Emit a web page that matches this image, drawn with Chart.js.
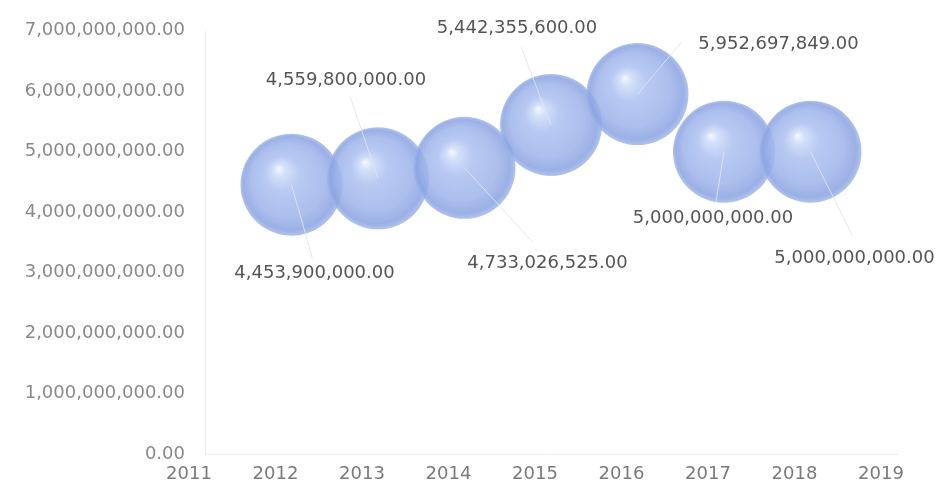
<!DOCTYPE html>
<html>
<head>
<meta charset="utf-8">
<script src="https://cdn.jsdelivr.net/npm/chart.js@4/dist/chart.umd.min.js"></script>
<style>
  html, body { margin: 0; padding: 0; background: #ffffff; }
  #wrap { width: 943px; height: 494px; position: relative; }
</style>
</head>
<body>
<div id="wrap"><canvas id="c"></canvas></div>
<script>
// ---- data ----
const years = [2012, 2013, 2014, 2015, 2016, 2017, 2018];
const values = [4453900000, 4559800000, 4733026525, 5442355600, 5952697849, 5000000000, 5000000000];
const xTickRange = [2011, 2019];
const yTickRange = [0, 7000000000];
const yStep = 1000000000;

// ---- label placement (pixel offsets from each bubble centre: text centre, leader end) ----
const labelOffsets = [
  { tx: 23,  ty: 89,  lx: 21,  ly: 74 },
  { tx: -32, ty: -98, lx: -28, ly: -82 },
  { tx: 83,  ty: 95,  lx: 68,  ly: 74 },
  { tx: -34, ty: -97, lx: -30, ly: -78 },
  { tx: 141, ty: -50, lx: 44,  ly: -52 },
  { tx: -11, ty: 67,  lx: -8,  ly: 50 },
  { tx: 44,  ty: 107, lx: 42,  ly: 84 }
];

const fmt = v => Number(v).toLocaleString('en-US', { minimumFractionDigits: 2, maximumFractionDigits: 2 });
const FONT = 'DejaVu Sans';
const BUBBLE_R = 51;

function sphereFill(ctx) {
  const chart = ctx.chart;
  if (ctx.type !== 'data' || !chart.scales.x || !ctx.parsed) return '#a2b8ec';
  const cx = chart.scales.x.getPixelForValue(ctx.parsed.x);
  const cy = chart.scales.y.getPixelForValue(ctx.parsed.y);
  if (!isFinite(cx) || !isFinite(cy)) return '#a2b8ec';
  const r = BUBBLE_R;
  const g = chart.ctx.createRadialGradient(cx - 0.26 * r, cy - 0.32 * r, 0, cx, cy, r);
  g.addColorStop(0, 'rgba(244,248,255,0.92)');
  g.addColorStop(0.12, 'rgba(206,220,248,0.88)');
  g.addColorStop(0.35, 'rgba(172,192,240,0.86)');
  g.addColorStop(0.72, 'rgba(158,180,234,0.86)');
  g.addColorStop(0.92, 'rgba(140,164,225,0.87)');
  g.addColorStop(1, 'rgba(156,180,234,0.8)');
  return g;
}

const labelPlugin = {
  id: 'leaderLabels',
  afterDatasetsDraw(chart) {
    const meta = chart.getDatasetMeta(0);
    const c = chart.ctx;
    c.save();
    meta.data.forEach((el, i) => {
      const o = labelOffsets[i];
      const x = el.x, y = el.y;
      c.strokeStyle = 'rgba(222,228,238,0.9)';
      c.lineWidth = 1;
      c.beginPath();
      c.moveTo(x, y);
      c.lineTo(x + o.lx, y + o.ly);
      c.stroke();
      c.fillStyle = '#555555';
      c.font = '18px "' + FONT + '"';
      c.textAlign = 'center';
      c.textBaseline = 'middle';
      c.fillText(fmt(values[i]), x + o.tx, y + o.ty);
    });
    c.restore();
  }
};

new Chart(document.getElementById('c'), {
  type: 'bubble',
  data: {
    datasets: [{
      label: 'Value',
      data: years.map((yr, i) => ({ x: yr, y: values[i] })),
      radius: BUBBLE_R,
      hoverRadius: 0,
      backgroundColor: sphereFill,
      borderWidth: 0,
      clip: false
    }]
  },
  options: {
    responsive: true,
    maintainAspectRatio: false,
    animation: false,
    events: [],
    layout: { autoPadding: false, padding: { top: 28, right: 46, left: 0, bottom: 0 } },
    plugins: { legend: { display: false }, tooltip: { enabled: false } },
    scales: {
      x: {
        type: 'linear',
        min: xTickRange[0],
        max: xTickRange[1],
        grid: { display: false, drawTicks: false },
        border: { display: true, color: '#ececec', width: 1 },
        ticks: {
          stepSize: 1,
          padding: 10,
          labelOffset: -16,
          color: '#7a7a7a',
          font: { family: FONT, size: 18 },
          callback: v => String(v),
          maxRotation: 0,
          autoSkip: false
        },
        afterFit: s => { s.height = 40; }
      },
      y: {
        min: yTickRange[0],
        max: yTickRange[1],
        grid: { display: false, drawTicks: false },
        border: { display: true, color: '#efefef', width: 1 },
        ticks: {
          stepSize: yStep,
          padding: 20,
          color: '#8a8a8a',
          font: { family: FONT, size: 18 },
          callback: v => fmt(v)
        },
        afterFit: s => { s.width = 205; }
      }
    }
  },
  plugins: [labelPlugin]
});
</script>
</body>
</html>
